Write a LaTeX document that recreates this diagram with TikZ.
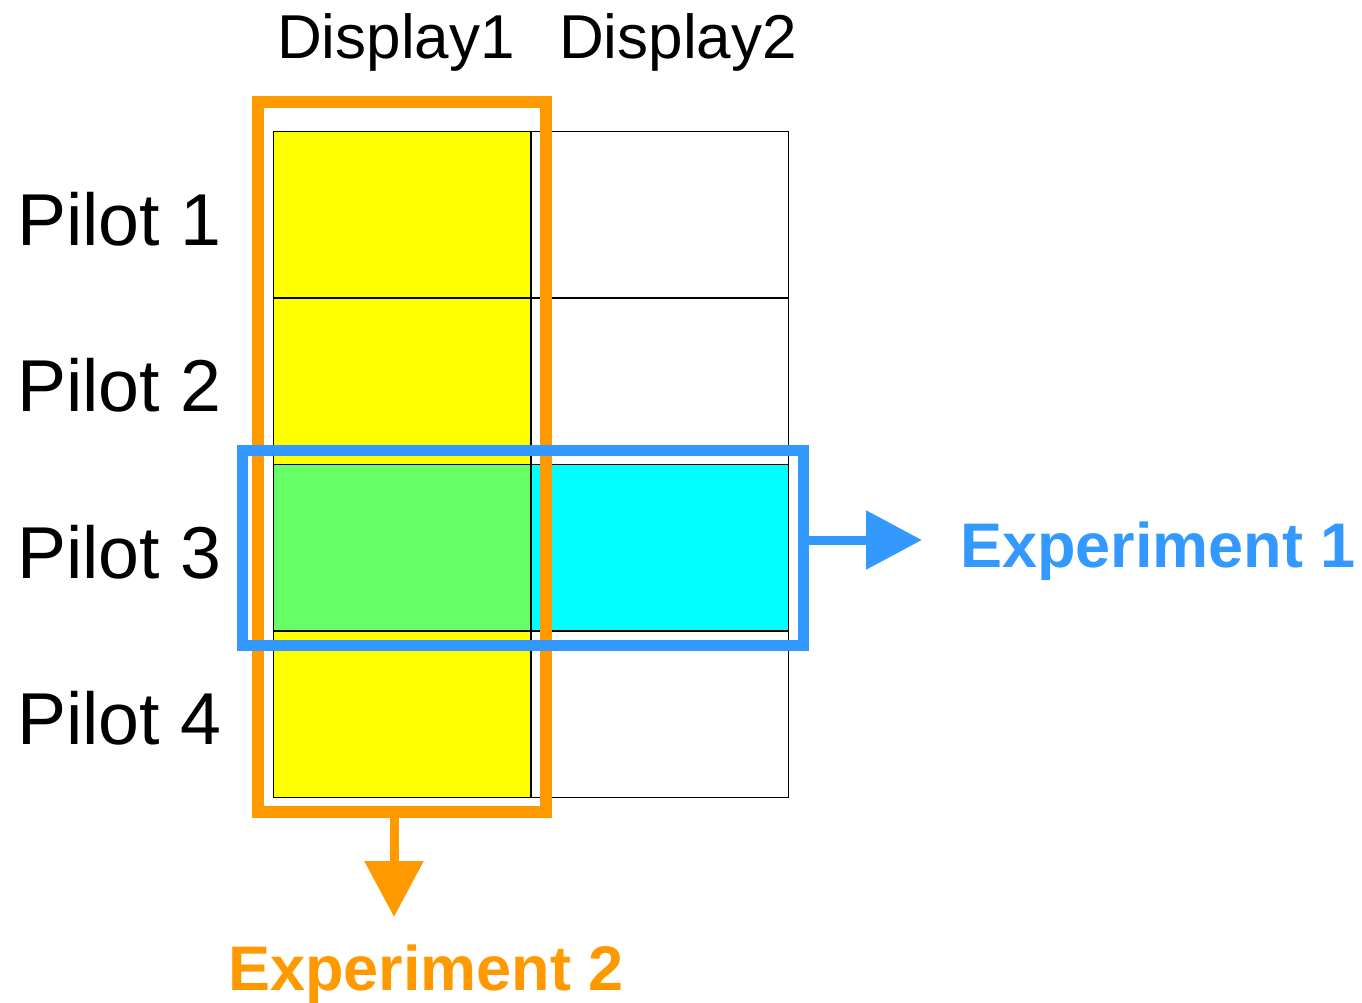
\documentclass[tikz,border=0pt]{standalone}
\usepackage{fontspec}
\setmainfont{Liberation Sans}
\usetikzlibrary{arrows.meta}

\definecolor{expblue}{RGB}{51,153,255}
\definecolor{exporange}{RGB}{255,153,0}
\definecolor{litgreen}{RGB}{102,255,102}
\definecolor{cellyellow}{RGB}{255,255,0}
\definecolor{cellcyan}{RGB}{0,255,255}

\begin{document}
\begin{tikzpicture}[x=1pt, y=-1pt,
    cell/.style={draw=black, line width=1.5pt, minimum width=257.5pt, minimum height=166.5pt, inner sep=0pt},
    pilotlbl/.style={anchor=base west, inner sep=0pt, font=\fontsize{73.5}{80}\selectfont},
    displbl/.style={anchor=base west, inner sep=0pt, font=\fontsize{62}{70}\selectfont},
    explbl/.style={anchor=base west, inner sep=0pt, font=\fontsize{63}{70}\selectfont\bfseries},
    expbox/.style={draw, inner sep=0pt},
    exparrow/.style={line width=9pt, -{Triangle[length=56pt, width=57pt]}}]

          \useasboundingbox[fill=white] (0,0) rectangle (1362,1002);

          % rows of the grid
          \foreach \r/\ca/\cb in {1/cellyellow/white, 2/cellyellow/white, 3/litgreen/cellcyan, 4/cellyellow/white}{
            \node[cell, fill=\ca] (d1p\r) at (402, 48+166.5*\r) {};
            \node[cell, fill=\cb] (d2p\r) at (659.5, 48+166.5*\r) {};
            \node[pilotlbl] (pilot\r) at (17, 78.5+166.5*\r) {Pilot \r};
          }

          \node[displbl] (disp1) at (277, 58) {Display1};
          \node[displbl] (disp2) at (559, 58) {Display2};

          % experiment frames
          \node[expbox, draw=exporange, line width=12pt, minimum width=288pt, minimum height=710.5pt] (exp2box) at (402, 456.75) {};
          \node[expbox, draw=expblue, line width=11pt, minimum width=560.5pt, minimum height=195.5pt] (exp1box) at (522.75, 547.75) {};

          \node[explbl, text=expblue] (exp1lbl) at (960, 567) {Experiment 1};
          \node[explbl, text=exporange] (exp2lbl) at (228, 990) {Experiment 2};

          \coordinate (tip1) at (922, 540);
          \coordinate (tip2) at (394, 917);
          \draw[exparrow, expblue] (exp1box.east |- tip1) -- (tip1);
          \draw[exparrow, exporange] (exp2box.south -| tip2) -- (tip2);
        \end{tikzpicture}
\end{document}
